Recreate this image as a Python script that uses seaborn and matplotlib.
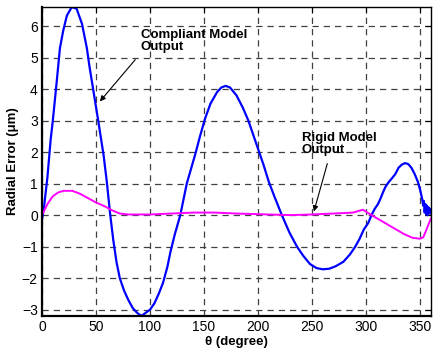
import matplotlib
matplotlib.use("Agg")
import matplotlib.pyplot as plt
import pandas as pd
import seaborn as sns

# Compliant model output (blue)
compliant_theta = [0, 2, 5, 8, 10, 13.7, 16.6, 19.6, 23, 27.5, 32, 37, 41.5, 44, 49, 52, 57,
                   60, 63, 66, 69, 72, 76, 80, 84, 88, 92, 96, 100, 104, 108, 112, 116, 119,
                   123, 128, 134, 142, 146, 151, 156, 162, 166, 170, 174, 180, 186, 191, 195,
                   200, 205, 210, 215, 222, 229, 236, 242, 248, 254, 260, 266, 272, 279, 285, 290,
                   294, 298, 302, 305, 308, 311, 313, 316, 318, 321, 324, 327, 330, 333, 336, 339,
                   342, 345, 348, 350, 352, 352.8, 353.5, 354.2, 354.9, 355.6, 356.3, 357, 357.7,
                   358.4, 359.1, 360]
compliant_err = [-0.15, 0.3, 1.2, 2.4, 3.0, 4.27, 5.3, 5.85, 6.33, 6.6, 6.55, 6.07, 5.3, 4.7,
                 3.64, 3.0, 1.9, 1.05, 0.05, -0.8, -1.5, -2.0, -2.4, -2.7, -2.95, -3.1, -3.2,
                 -3.1, -3.0, -2.8, -2.5, -2.15, -1.65, -1.15, -0.6, 0.0, 1.0, 1.95, 2.47, 3.07,
                 3.54, 3.9, 4.05, 4.1, 4.05, 3.8, 3.4, 3.0, 2.6, 2.1, 1.6, 1.05, 0.6,
                 0.0, -0.55, -1.0, -1.3, -1.55, -1.68, -1.72, -1.7, -1.62, -1.48, -1.25, -1.0,
                 -0.75, -0.45, -0.25, 0.0, 0.2, 0.35, 0.5, 0.75, 0.9, 1.05, 1.17, 1.3, 1.5, 1.6,
                 1.65, 1.62, 1.5, 1.3, 1.05, 0.8, 0.5, 0.3, 0.45, 0.08, 0.35, 0.02, 0.3, 0.0,
                 0.25, 0.05, 0.2, 0.05]

# Rigid model output (magenta)
rigid_theta = [0, 5, 10, 15, 20, 28, 35, 42, 50, 58, 65, 72, 80, 100, 120, 140, 160, 180, 200,
               230, 250, 270, 288, 297, 305, 315, 325, 335, 343, 350, 353, 356, 360]
rigid_err = [0.0, 0.35, 0.6, 0.72, 0.77, 0.77, 0.68, 0.55, 0.4, 0.28, 0.15, 0.05, 0.02, 0.02,
             0.05, 0.08, 0.08, 0.05, 0.03, 0.0, 0.02, 0.05, 0.08, 0.17, 0.0, -0.2, -0.4, -0.6,
             -0.72, -0.75, -0.7, -0.45, -0.1]

x_ticks = [0, 50, 100, 150, 200, 250, 300, 350]
y_ticks = [-3, -2, -1, 0, 1, 2, 3, 4, 5, 6]

sns.set_style("white")
plt.rcParams['font.family'] = ['Liberation Sans', 'DejaVu Sans']
plt.rcParams['text.color'] = 'black'
plt.rcParams['axes.labelcolor'] = 'black'
plt.rcParams['xtick.color'] = 'black'
plt.rcParams['ytick.color'] = 'black'

fig = plt.figure(figsize=(4.35, 3.55), dpi=100)
ax = fig.add_axes([0.0966, 0.11, 0.894, 0.87])

comp_df = pd.DataFrame({'theta': compliant_theta, 'err': compliant_err})
rigid_df = pd.DataFrame({'theta': rigid_theta, 'err': rigid_err})

sns.lineplot(data=comp_df, x='theta', y='err', sort=False, color='#0000ff', lw=1.6, ax=ax)
sns.lineplot(data=rigid_df, x='theta', y='err', sort=False, color='#ff00ff', lw=1.4, ax=ax)

ax.set_xlim(0, 360)
ax.set_ylim(-3.2, 6.6)
ax.set_xticks(x_ticks)
ax.set_yticks(y_ticks)
ax.grid(True, color='0.25', linestyle=(0, (5, 4)), lw=0.9)
ax.tick_params(direction='in', top=True, right=True, length=4, width=0.8,
               labelsize=10, colors='black', pad=3)
for side in ['top', 'right']:
    ax.spines[side].set_linewidth(1.0)
    ax.spines[side].set_color('black')
for side in ['left', 'bottom']:
    ax.spines[side].set_linewidth(1.6)
    ax.spines[side].set_color('black')

ax.set_xlabel("θ (degree)", fontsize=9.5, fontweight='bold', labelpad=1)
ax.set_ylabel("Radial Error (μm)", fontsize=9.5, fontweight='bold', labelpad=2)

# annotations
ax.text(91.5, 5.9, "Compliant Model\nOutput", fontsize=9.5, fontweight='bold',
        ha='left', va='top', linespacing=1.0)
ax.annotate("", xy=(51.9, 3.54), xytext=(88, 5.0),
            arrowprops=dict(arrowstyle='-|>', color='black', lw=0.8, mutation_scale=8))
ax.text(240.5, 2.65, "Rigid Model\nOutput", fontsize=9.5, fontweight='bold',
        ha='left', va='top', linespacing=1.0)
ax.annotate("", xy=(251, 0.03), xytext=(264.8, 1.72),
            arrowprops=dict(arrowstyle='-|>', color='black', lw=0.8, mutation_scale=8))

fig.savefig("out.png", dpi=100)
